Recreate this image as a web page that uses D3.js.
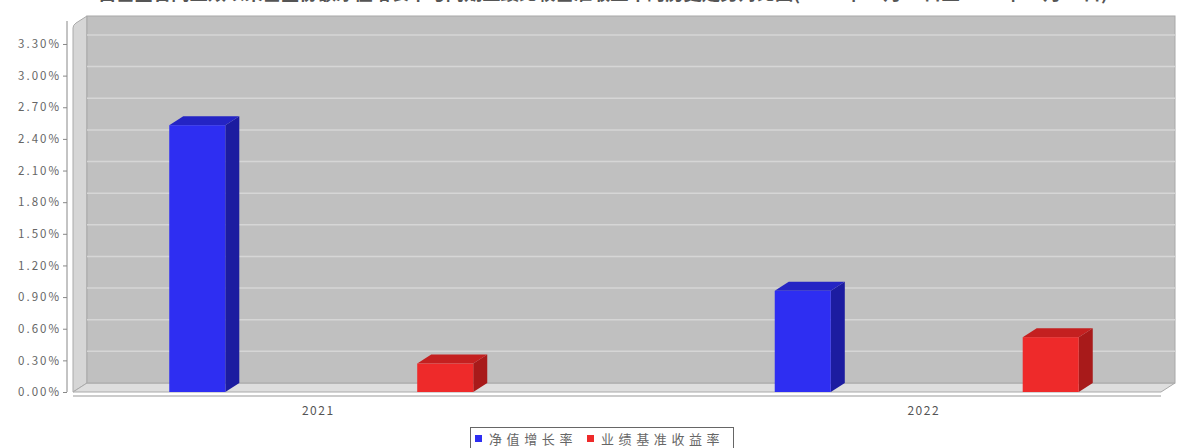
<!DOCTYPE html>
<html><head><meta charset="utf-8">
<script src="https://cdn.jsdelivr.net/npm/d3@7"></script>
<style>body{margin:0;background:#fff}svg{display:block}</style>
</head><body>
<svg id="c" width="1177" height="448"></svg>
<script>
const categories = ["2021", "2022"];
const seriesNames = ["净值增长率", "业绩基准收益率"];
const netGrowth = [2.53, 0.96];
const benchmark = [0.27, 0.52];
const yTicks = [0, 0.3, 0.6, 0.9, 1.2, 1.5, 1.8, 2.1, 2.4, 2.7, 3.0, 3.3];
const titleText = "自基金合同生效以来基金份额净值增长率与同期业绩比较基准收益率的历史走势对比图(2021年07月20日至2022年12月31日)";

(function () {
const svg = d3.select("#c");
const dx = 14, dy = 9;
const pLeft = 73, pRight = 1175, pBottom = 392, pTop = 25;
const font = "'Noto Sans CJK SC','DejaVu Sans',sans-serif";

const y = d3.scaleLinear().domain([0, 3.48]).range([pBottom, pTop]);
const x = d3.scalePoint().domain(categories).range([pLeft, pRight]).padding(0.41);
const xs = d3.scaleBand().domain(seriesNames).range([-152, 152]).paddingInner(0.774);
const fronts = ["#2e2ef2", "#ee2a2a"], sides = ["#1c1ca0", "#a81a1a"], tops = ["#2424c4", "#c42020"];

// title (cut off at top, as in the reference)
svg.append("text").attr("x", 603).attr("y", 0).attr("text-anchor", "middle")
  .attr("font-family", font).attr("font-weight", "bold").attr("font-size", 17)
  .attr("textLength", 1010).attr("lengthAdjust", "spacingAndGlyphs").attr("fill", "#555").text(titleText);

// walls
const wallR = pRight;
svg.append("path").attr("d", `M${pLeft},${pBottom} L${pLeft},${pTop+3} Q${pLeft},${pTop} ${pLeft+3},${pTop-2} L${pLeft+dx},${pTop-dy} L${pLeft+dx},${pBottom-dy} Z`)
  .attr("fill", "#d6d6d6").attr("stroke", "#aaa");
svg.append("path").attr("d", `M${pLeft},${pBottom} L${pLeft+dx},${pBottom-dy} L${wallR},${pBottom-dy} L${wallR-dx},${pBottom} Z`)
  .attr("fill", "#dedede").attr("stroke", "#aaa");
svg.append("rect").attr("x", pLeft+dx).attr("y", pTop-dy).attr("width", wallR-pLeft-dx).attr("height", pBottom-pTop)
  .attr("fill", "#c0c0c0").attr("stroke", "#a8a8a8");

// gridlines on back wall
svg.append("g").selectAll("line").data(yTicks.slice(1)).join("line")
  .attr("x1", pLeft+dx).attr("x2", wallR).attr("y1", d => y(d)-dy).attr("y2", d => y(d)-dy)
  .attr("stroke", "#d6d6d6").attr("stroke-width", 1.5);

// y axis
const ya = svg.append("g").attr("transform", `translate(67,0)`)
  .call(d3.axisLeft(y).tickValues(yTicks).tickSize(4).tickFormat(d => d3.format(".2f")(d) + "%"));
ya.select(".domain").attr("stroke", "#888").attr("d", `M0,${pBottom}V${pTop-4}`);
ya.selectAll(".tick line").attr("stroke", "#888");
ya.selectAll("text").attr("font-family", font).attr("font-size", 11.5).attr("fill", "#666")
  .attr("letter-spacing", 2).attr("x", -6);

// x axis
svg.append("line").attr("x1", pLeft).attr("x2", wallR-dx).attr("y1", 396).attr("y2", 396).attr("stroke", "#999");
svg.append("g").selectAll("text").data(categories).join("text")
  .attr("x", d => x(d) - 3).attr("y", 415).attr("text-anchor", "middle")
  .attr("font-family", font).attr("font-size", 12).attr("letter-spacing", 1.5).attr("fill", "#555").text(d => d);

// bars
const data = [];
categories.forEach((c, i) => {
  data.push({c, s: seriesNames[0], v: netGrowth[i], k: 0});
  data.push({c, s: seriesNames[1], v: benchmark[i], k: 1});
});
const bw = xs.bandwidth();
const g = svg.append("g");
data.forEach(d => {
  const x0 = x(d.c) + xs(d.s), y0 = y(d.v), yb = y(0);
  g.append("path").attr("d", `M${x0+bw},${y0} L${x0+bw+dx},${y0-dy} L${x0+bw+dx},${yb-dy} L${x0+bw},${yb} Z`).attr("fill", sides[d.k]);
  g.append("path").attr("d", `M${x0},${y0} L${x0+dx},${y0-dy} L${x0+bw+dx},${y0-dy} L${x0+bw},${y0} Z`).attr("fill", tops[d.k]);
  g.append("rect").attr("x", x0).attr("y", y0).attr("width", bw).attr("height", yb - y0).attr("fill", fronts[d.k]);
});

// legend
const lg = svg.append("g");
lg.append("rect").attr("x", 470.5).attr("y", 427.5).attr("width", 263).attr("height", 30).attr("fill", "#fff").attr("stroke", "#666");
const items = [{n: seriesNames[0], x: 475}, {n: seriesNames[1], x: 587}];
items.forEach((it, i) => {
  lg.append("rect").attr("x", it.x).attr("y", 435).attr("width", 7).attr("height", 7).attr("fill", fronts[i]);
  lg.append("text").attr("x", it.x + 14).attr("y", 444).attr("font-family", font).attr("font-size", 13)
    .attr("letter-spacing", 4.6).attr("fill", "#666").text(it.n);
});
})();
</script>
</body></html>
